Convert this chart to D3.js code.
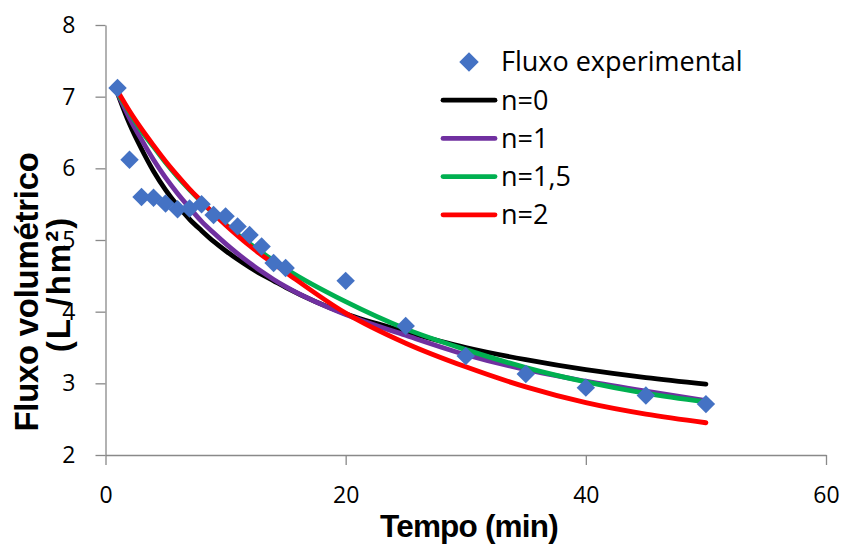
<!DOCTYPE html>
<html>
<head>
<meta charset="utf-8">
<script src="https://cdn.jsdelivr.net/npm/d3@7"></script>
<style>
  body { margin: 0; background: #fff; }
  svg { display: block; }
</style>
</head>
<body>
<div id="chart"></div>
<script>
// experimental flux (L/h m2) over time (min)
const expTimes = [1, 2, 3, 4, 5, 6, 7, 8, 9, 10, 11, 12, 13, 14, 15, 20, 25, 30, 35, 40, 45, 50];
const expFlux = [7.12, 6.12, 5.6, 5.59, 5.51, 5.43, 5.44, 5.5, 5.35, 5.33, 5.19, 5.07, 4.91, 4.68, 4.61, 4.43, 3.8, 3.38, 3.13, 2.94, 2.83, 2.71];

// model curves, same time grid
const modelTimes = expTimes;
const fluxN0 = [7.05, 6.62, 6.27, 5.96, 5.70, 5.48, 5.29, 5.13, 4.98, 4.85, 4.73, 4.62, 4.52, 4.43, 4.34, 3.97, 3.72, 3.50, 3.33, 3.19, 3.08, 2.99];
const fluxN1 = [7.05, 6.70, 6.40, 6.12, 5.87, 5.65, 5.45, 5.26, 5.10, 4.95, 4.81, 4.68, 4.56, 4.45, 4.35, 3.96, 3.67, 3.40, 3.19, 3.03, 2.89, 2.76];
const fluxN15 = [7.05, 6.78, 6.52, 6.30, 6.08, 5.88, 5.70, 5.53, 5.37, 5.22, 5.08, 4.95, 4.83, 4.71, 4.60, 4.14, 3.76, 3.47, 3.22, 3.02, 2.86, 2.74];
const fluxN2 = [7.08, 6.80, 6.55, 6.32, 6.10, 5.90, 5.71, 5.54, 5.37, 5.21, 5.06, 4.92, 4.79, 4.67, 4.55, 3.98, 3.56, 3.23, 2.95, 2.73, 2.57, 2.45];

const seriesNames = ["n=0", "n=1", "n=1,5", "n=2"];
const seriesColors = ["#000000", "#7030a0", "#00b050", "#ff0000"];
const seriesValues = [fluxN0, fluxN1, fluxN15, fluxN2];

const xTicks = [0, 20, 40, 60];
const yTicks = [2, 3, 4, 5, 6, 7, 8];

const width = 844, height = 546;
const margin = { left: 105.5, right: 18, top: 25, bottom: 91 };

const svg = d3.select("#chart").append("svg")
    .attr("width", width)
    .attr("height", height);

const x = d3.scaleLinear().domain([0, 60]).range([margin.left, width - margin.right]);
const y = d3.scaleLinear().domain([2, 8]).range([height - margin.bottom, margin.top]);

const axisColor = "#898989";
const tickFont = "'Open Sans', sans-serif";

// x axis
const xAxis = svg.append("g")
    .attr("transform", `translate(0,${y(2)})`)
    .call(d3.axisBottom(x).tickValues(xTicks).tickFormat(d3.format("d"))
        .tickSize(10).tickSizeOuter(0).tickPadding(22));
// y axis
const yAxis = svg.append("g")
    .attr("transform", `translate(${x(0)},0)`)
    .call(d3.axisLeft(y).tickValues(yTicks).tickFormat(d3.format("d"))
        .tickSize(10).tickSizeOuter(0).tickPadding(20));

[xAxis, yAxis].forEach(g => {
    g.select(".domain").attr("stroke", axisColor).attr("stroke-width", 1.3);
    g.selectAll(".tick line").attr("stroke", axisColor).attr("stroke-width", 1.3);
    g.selectAll(".tick text")
        .attr("fill", "#000")
        .style("font-family", tickFont)
        .style("font-size", "23px");
});

// model lines
const line = d3.line()
    .x((d, i) => x(modelTimes[i]))
    .y(d => y(d))
    .curve(d3.curveMonotoneX);

seriesValues.forEach((vals, k) => {
    svg.append("path")
        .datum(vals)
        .attr("d", line)
        .attr("fill", "none")
        .attr("stroke", seriesColors[k])
        .attr("stroke-width", 4.8)
        .attr("stroke-linecap", "round")
        .attr("stroke-linejoin", "round");
});

// experimental points (diamonds)
const diamond = d3.symbol().type(d3.symbolSquare).size(170);
svg.append("g")
    .selectAll("path")
    .data(expFlux)
    .join("path")
    .attr("d", diamond)
    .attr("fill", "#4472c4")
    .attr("transform", (d, i) => `translate(${x(expTimes[i])},${y(d)}) rotate(45)`);

// axis titles
const titleFont = "'Liberation Sans', Arial, sans-serif";
svg.append("text")
    .attr("x", 469)
    .attr("y", 537)
    .attr("text-anchor", "middle")
    .style("font-family", titleFont)
    .style("font-weight", "bold")
    .style("font-size", "31.5px")
    .style("letter-spacing", "-0.8px")
    .text("Tempo (min)");

const yTitle = svg.append("text")
    .attr("transform", "translate(38,292) rotate(-90)")
    .attr("text-anchor", "middle")
    .style("font-family", titleFont)
    .style("font-weight", "bold")
    .style("font-size", "33px")
    .style("letter-spacing", "-0.3px");
yTitle.append("tspan").attr("x", 0).attr("y", 0).text("Fluxo volumétrico");
yTitle.append("tspan").attr("x", 8).attr("y", 32).style("letter-spacing", "2px").text("(L /hm²)");

// legend
const legend = svg.append("g");
const legendFont = "'Open Sans', sans-serif";
const legendTop = 62;
const legendStep = 38.2;

legend.append("path")
    .attr("d", d3.symbol().type(d3.symbolSquare).size(190))
    .attr("fill", "#4472c4")
    .attr("transform", `translate(469,${legendTop}) rotate(45)`);
legend.append("text")
    .attr("x", 501)
    .attr("y", legendTop)
    .attr("dy", "0.35em")
    .style("font-family", legendFont)
    .style("font-size", "27px")
    .text("Fluxo experimental");

seriesNames.forEach((name, k) => {
    const ly = legendTop + legendStep * (k + 1);
    legend.append("line")
        .attr("x1", 443).attr("x2", 495)
        .attr("y1", ly).attr("y2", ly)
        .attr("stroke", seriesColors[k])
        .attr("stroke-width", 4.8)
        .attr("stroke-linecap", "round");
    legend.append("text")
        .attr("x", 501)
        .attr("y", ly)
        .attr("dy", "0.35em")
        .style("font-family", legendFont)
        .style("font-size", "27px")
        .text(name);
});
</script>
</body>
</html>
